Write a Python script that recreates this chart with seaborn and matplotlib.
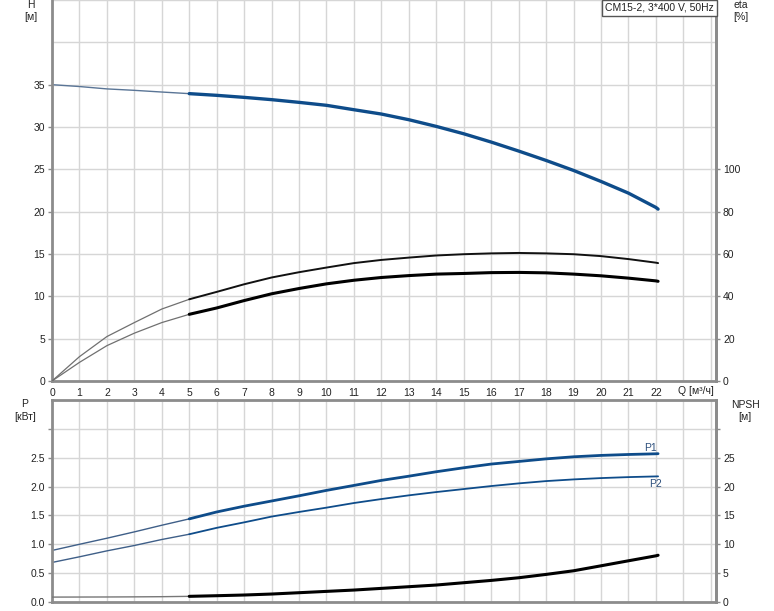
import numpy as np
import pandas as pd
import matplotlib
matplotlib.use("Agg")
import matplotlib.pyplot as plt
import seaborn as sns

# ---------------- data ----------------
q = [0, 1, 2, 3, 4, 5, 6, 7, 8, 9, 10, 11, 12, 13, 14, 15, 16, 17, 18, 19, 20, 21, 22, 22.08]
head = [35.0, 34.78, 34.5, 34.33, 34.13, 33.94, 33.74, 33.5, 33.23, 32.91, 32.56, 32.04,
        31.53, 30.86, 30.07, 29.2, 28.22, 27.16, 26.05, 24.87, 23.57, 22.19, 20.5, 20.3]
eta_pump = [0, 11.5, 21.0, 27.6, 34.0, 38.6, 42.1, 45.7, 48.9, 51.4, 53.6, 55.7,
            57.2, 58.3, 59.3, 59.9, 60.3, 60.5, 60.3, 59.9, 59.0, 57.6, 55.9, 55.7]
eta_total = [0, 8.8, 16.7, 22.6, 27.6, 31.5, 34.5, 38.0, 41.2, 43.7, 45.9, 47.6,
             48.9, 49.8, 50.5, 50.8, 51.2, 51.3, 51.1, 50.5, 49.7, 48.6, 47.3, 47.1]
p1 = [0.893, 1.0, 1.105, 1.215, 1.33, 1.44, 1.56, 1.66, 1.75, 1.84, 1.934, 2.02,
      2.107, 2.18, 2.257, 2.326, 2.39, 2.435, 2.48, 2.516, 2.54, 2.556, 2.568, 2.57]
p2 = [0.685, 0.783, 0.886, 0.979, 1.083, 1.174, 1.285, 1.38, 1.48, 1.56, 1.635, 1.715,
      1.784, 1.848, 1.905, 1.957, 2.009, 2.055, 2.095, 2.124, 2.147, 2.164, 2.176, 2.177]
npsh = [0.85, 0.86, 0.87, 0.89, 0.92, 0.98, 1.09, 1.21, 1.38, 1.61, 1.84, 2.07,
        2.36, 2.65, 2.94, 3.34, 3.74, 4.2, 4.78, 5.41, 6.27, 7.14, 8.0, 8.1]

q_ticks = list(range(0, 25))
q_labels = [str(i) for i in range(0, 23)] + ["", ""]
h_ticks = list(range(0, 46, 5))
h_labels = [str(v) for v in range(0, 36, 5)] + ["", ""]
eta_ticks = [0, 20, 40, 60, 80, 100]
p_ticks = [0.0, 0.5, 1.0, 1.5, 2.0, 2.5, 3.0, 3.5]
p_labels = ["0.0", "0.5", "1.0", "1.5", "2.0", "2.5", "", ""]
n_ticks = [0, 5, 10, 15, 20, 25, 30, 35]
n_labels = ["0", "5", "10", "15", "20", "25", "", ""]
title_box = "CM15-2, 3*400 V, 50Hz"

# ---------------- style ----------------
sns.set_theme(style="white")
plt.rcParams["font.family"] = ["Liberation Sans", "DejaVu Sans"]
FS = 7.5
GRID = "#d6d6d6"
SPINE = "#8c8c8c"
BLUE = "#0e4c8a"
TXT = "#222222"

df = pd.DataFrame({"q": q, "head": head, "eta_pump": eta_pump, "eta_total": eta_total,
                   "p1": p1, "p2": p2, "npsh": npsh})
lo = df[df.q <= 5]
hi = df[df.q >= 5]

W, H = 774, 611
fig = plt.figure(figsize=(W / 100, H / 100), dpi=100)
x0, x1 = 52, 716
xmax = 24.19

ax1 = fig.add_axes([x0 / W, (H - 381) / H, (x1 - x0) / W, 381 / H])
ax1b = ax1.twinx()
ax2 = fig.add_axes([x0 / W, (H - 602) / H, (x1 - x0) / W, (602 - 400) / H])
ax2b = ax2.twinx()


def style_axes(ax, show_xlabels):
    ax.set_xlim(0, xmax)
    ax.set_xticks(q_ticks)
    ax.grid(True, color=GRID, linewidth=1.0)
    ax.set_axisbelow(True)
    for s in ax.spines.values():
        s.set_color(SPINE)
        s.set_linewidth(2.0)
    ax.tick_params(axis="both", which="major", length=3, width=1, color=SPINE,
                   labelsize=FS, labelcolor=TXT, pad=2)
    if show_xlabels:
        ax.set_xticklabels(q_labels)
    else:
        ax.tick_params(axis="x", length=0, labelbottom=False)


style_axes(ax1, True)
ax1.spines["top"].set_visible(False)
ax1.set_ylim(0, 45)
ax1.set_yticks(h_ticks)
ax1.set_yticklabels(h_labels)
for t in ax1.yaxis.get_major_ticks()[8:]:
    t.tick1line.set_visible(False)

ax1b.set_ylim(0, 180)
ax1b.set_yticks(eta_ticks)
ax1b.tick_params(axis="y", length=3, width=1, color=SPINE, labelsize=FS, labelcolor=TXT, pad=2)
for k, s in ax1b.spines.items():
    s.set_visible(k == "right")
    s.set_color(SPINE)
    s.set_linewidth(2.0)
ax1b.grid(False)

style_axes(ax2, False)
ax2.set_ylim(0, 3.5)
ax2.set_yticks(p_ticks)
ax2.set_yticklabels(p_labels)
ax2.yaxis.get_major_ticks()[-1].tick1line.set_visible(False)

ax2b.set_ylim(0, 35)
ax2b.set_yticks(n_ticks)
ax2b.set_yticklabels(n_labels)
ax2b.tick_params(axis="y", length=3, width=1, color=SPINE, labelsize=FS, labelcolor=TXT, pad=2)
ax2b.yaxis.get_major_ticks()[-1].tick2line.set_visible(False)
for k, s in ax2b.spines.items():
    s.set_visible(k == "right")
    s.set_color(SPINE)
    s.set_linewidth(2.0)
ax2b.grid(False)


def draw(ax, col, color_thin, color_thick, lw_thin, lw_thick):
    sns.lineplot(data=lo, x="q", y=col, ax=ax, color=color_thin, linewidth=lw_thin,
                 estimator=None, sort=False, legend=False)
    sns.lineplot(data=hi, x="q", y=col, ax=ax, color=color_thick, linewidth=lw_thick,
                 estimator=None, sort=False, legend=False)


draw(ax1, "head", "#5a7596", BLUE, 1.0, 2.4)
draw(ax1b, "eta_pump", "#707070", "#111111", 0.9, 1.4)
draw(ax1b, "eta_total", "#707070", "#000000", 0.9, 2.2)
draw(ax2, "p1", "#3f5f88", BLUE, 1.0, 2.0)
draw(ax2, "p2", "#3f5f88", BLUE, 1.0, 1.3)
draw(ax2b, "npsh", "#777777", "#000000", 1.0, 2.2)

for a in (ax1, ax1b, ax2, ax2b):
    a.set_xlabel("")
    a.set_ylabel("")
ax1.set_xlim(0, xmax)
ax2.set_xlim(0, xmax)

# curve labels
ax2.text(21.8, 2.66, "P1", fontsize=FS, color="#2d4f7c", ha="center", va="center")
ax2.text(22.0, 2.04, "P2", fontsize=FS, color="#2d4f7c", ha="center", va="center")

# axis unit labels
def ftxt(px, py, s):
    fig.text(px / W, 1 - py / H, s, fontsize=FS, color=TXT, ha="center", va="center")

ftxt(31, 5, "H")
ftxt(31, 17, "[м]")
ftxt(741, 5, "eta")
ftxt(741, 17, "[%]")
ftxt(25, 404, "P")
ftxt(25, 417, "[кВт]")
ftxt(745, 405, "NPSH")
ftxt(745, 417, "[м]")
ftxt(696, 391, "Q [м³/ч]")

fig.text(659 / W, 1 - 8 / H, title_box, fontsize=FS, color=TXT, ha="center", va="center",
         bbox=dict(boxstyle="square,pad=0.3", facecolor="white", edgecolor="#555555", linewidth=1))

fig.savefig("out.png", dpi=100)
